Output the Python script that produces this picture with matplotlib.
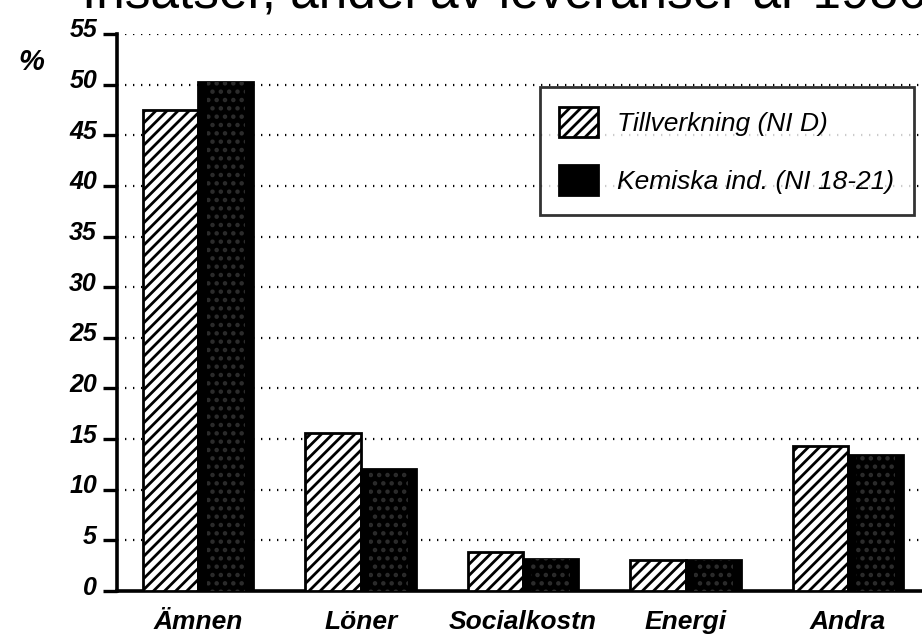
import matplotlib.pyplot as plt
import matplotlib.transforms as mtransforms
import numpy as np

# Data
categories = ['Ämnen', 'Löner', 'Socialkostn', 'Energi', 'Andra']
tillverkning = [47.5, 15.6, 3.9, 3.1, 14.3]
kemiska = [50.3, 12.0, 3.2, 3.1, 13.4]
series_labels = ['Tillverkning (NI D)', 'Kemiska ind. (NI 18-21)']
yticks = list(range(0, 60, 5))
title = 'Insatser, andel av leveranser år 1986'

plt.rcParams['font.family'] = ['Liberation Sans', 'DejaVu Sans']
plt.rcParams['hatch.linewidth'] = 2.0


def make_chart():
    fig = plt.figure(figsize=(9.22, 6.41), dpi=100)
    ax = fig.add_axes([0.1269, 0.078, 0.8731, 0.869])

    x = np.arange(len(categories))
    width = 0.34

    ax.bar(x - width / 2, tillverkning, width, color='white', edgecolor='black',
           hatch='///', linewidth=2.0, zorder=3, label=series_labels[0])
    ax.bar(x + width / 2, kemiska, width, color='black', edgecolor='black',
           linewidth=2.0, zorder=3, label=series_labels[1])
    # faint stipple inside the dark bars
    ax.bar(x + width / 2, kemiska, width * 0.7, color='none', edgecolor='#2c2c2c',
           hatch='..', linewidth=0, zorder=4)

    ax.set_xlim(-0.5, 4.455)
    ax.set_ylim(0, 55)
    ax.set_yticks(yticks)
    ax.set_yticklabels([])
    # tick numbers sit slightly above their tick marks, so draw them by hand
    lab_trans = ax.get_yaxis_transform() + mtransforms.ScaledTranslation(
        -0.20, 0.035, fig.dpi_scale_trans)
    for v in yticks:
        ax.text(0, v, str(v), transform=lab_trans, ha='right', va='center',
                fontsize=18, fontweight='bold', fontstyle='italic', clip_on=False)
    ax.set_xticks(x)
    ax.set_xticklabels(categories, fontsize=19, fontweight='bold', fontstyle='italic')
    ax.tick_params(axis='x', length=0, pad=14)
    ax.tick_params(axis='y', direction='out', length=10, width=2.4)

    for side in ['top', 'right']:
        ax.spines[side].set_visible(False)
    ax.spines['left'].set_linewidth(2.6)
    ax.spines['bottom'].set_linewidth(2.6)

    for v in yticks[1:]:
        ax.axhline(v, color='black', linewidth=1.6, linestyle=(0, (0.6, 3.0)), zorder=1)

    leg = ax.legend(loc='upper left', bbox_to_anchor=(0.525, 0.905),
                    prop={'style': 'italic', 'size': 19}, frameon=True, fancybox=False,
                    handlelength=1.45, handleheight=1.4, borderpad=0.75, labelspacing=1.05,
                    handletextpad=0.75, borderaxespad=0)
    leg.get_frame().set_edgecolor('black')
    leg.get_frame().set_linewidth(2.0)
    leg.set_zorder(5)

    fig.text(0.02, 0.903, '%', fontsize=21, fontweight='bold', fontstyle='italic',
             ha='left', va='center')
    fig.text(0.089, 1 - 8 / 641, title, fontsize=37, ha='left', va='baseline')

    fig.savefig('out.png', dpi=100, facecolor='white')
    plt.close(fig)


if __name__ == '__main__':
    make_chart()
